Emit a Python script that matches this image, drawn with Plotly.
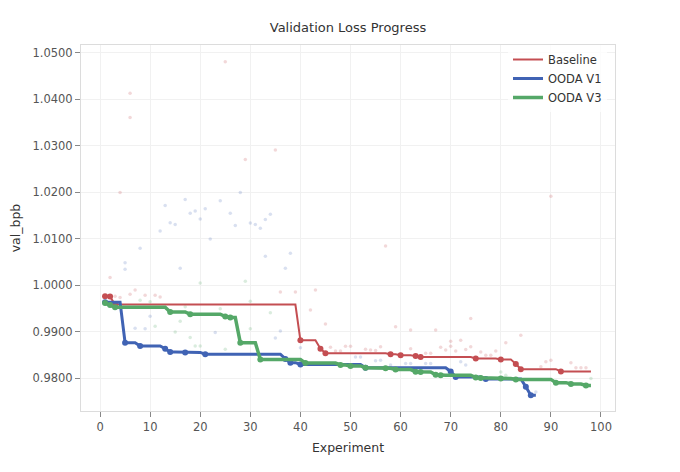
import plotly.graph_objects as go

# best-so-far improvements (experiment, val_bpb)
baseline_imp_x = [1, 2, 3, 40, 44, 45, 58, 60, 63, 64, 75, 80, 83, 84, 92]
baseline_imp_y = [0.9977, 0.9976, 0.9959, 0.9882, 0.9864, 0.9854, 0.9852, 0.9850,
                  0.9848, 0.9846, 0.9843, 0.9841, 0.9831, 0.9820, 0.9815]
baseline_last = 98

v1_imp_x = [1, 5, 8, 13, 14, 17, 21, 37, 38, 40, 53, 70, 71, 77, 85, 86]
v1_imp_y = [0.9964, 0.9877, 0.9870, 0.9864, 0.9857, 0.9856, 0.9852, 0.9842, 0.9834,
            0.9830, 0.9823, 0.9815, 0.9803, 0.9799, 0.9782, 0.9764]
v1_last = 87

v3_imp_x = [1, 2, 3, 14, 18, 25, 26, 28, 32, 41, 48, 50, 53, 57, 59, 63, 64, 67, 68,
            75, 76, 80, 83, 91, 94, 97]
v3_imp_y = [0.9962, 0.9958, 0.9953, 0.9943, 0.9938, 0.9933, 0.9931, 0.9877, 0.9841,
            0.9833, 0.9829, 0.9827, 0.9823, 0.9822, 0.9819, 0.98145, 0.9814, 0.9808,
            0.9807, 0.9802, 0.9801, 0.9800, 0.9798, 0.9791, 0.9788, 0.9785]
v3_last = 98

# individual experiment results (faint dots)
baseline_raw_x = [2, 4, 6, 6, 25, 29, 35, 3, 4, 6, 7, 9, 11, 12, 36, 39, 43, 42, 45,
                  46, 47, 48, 49, 50, 53, 54, 55, 56, 57, 59, 62, 62, 65, 66, 67, 68,
                  69, 70, 70, 71, 72, 73, 74, 74, 76, 77, 78, 79, 81, 84, 88, 89, 90,
                  90, 94, 95, 96, 97]
baseline_raw_y = [1.0017, 1.0200, 1.0413, 1.0361, 1.0481, 1.0271, 1.0291, 0.9977,
                  0.9974, 0.9981, 0.9990, 0.9979, 0.9979, 0.9975, 0.9986, 0.9986,
                  0.9990, 0.9947, 0.9917, 0.9867, 0.9859, 0.9859, 0.9869, 0.9869,
                  0.9863, 0.9861, 0.9860, 0.9868, 1.0085, 0.9911, 0.9904, 0.9864,
                  0.9854, 0.9854, 0.9904, 0.9867, 0.9861, 0.9880, 0.9869, 0.9859,
                  0.9882, 0.9862, 0.9929, 0.9868, 0.9857, 0.9850, 0.9850, 0.9859,
                  0.9877, 0.9893, 0.9825, 0.9836, 0.9839, 1.0192, 0.9834, 0.9823,
                  0.9823, 0.9823]

v1_raw_x = [5, 5, 7, 8, 9, 10, 12, 13, 14, 15, 16, 17, 18, 19, 20, 21, 22, 23, 24,
            26, 27, 28, 30, 31, 32, 33, 34, 33, 35, 36, 37, 38, 40, 51, 52, 55, 56,
            58, 61, 62, 65, 66, 72, 73, 87]
v1_raw_y = [1.0049, 1.0035, 0.9908, 1.0080, 0.9907, 0.9934, 1.0117, 1.0172, 1.0135,
            1.0131, 1.0037, 1.0185, 1.0155, 1.0160, 1.0143, 1.0165, 1.0100, 0.9899,
            1.0182, 1.0155, 1.0129, 1.0200, 1.0134, 1.0131, 1.0123, 1.0142, 1.0153,
            1.0063, 0.9887, 0.9902, 1.0037, 1.0069, 0.9866, 0.9846, 0.9846, 0.9838,
            0.9839, 0.9829, 0.9832, 0.9832, 0.9832, 0.9832, 0.9836, 0.9829, 0.9771]

v3_raw_x = [8, 10, 11, 15, 16, 17, 18, 19, 20, 20, 24, 25, 29, 30, 30, 34, 80, 81, 98]
v3_raw_y = [0.9968, 0.9965, 0.9912, 0.9900, 0.9923, 0.9954, 0.9888, 0.9870, 0.9870,
            1.0005, 0.9950, 0.9863, 1.0009, 0.9966, 0.9907, 0.9941, 0.9814, 0.9807,
            0.9800]

RED = '#C44E52'
BLUE = '#4063B4'
GREEN = '#55A868'


def best_line(imp_x, imp_y, last):
    """carry the best value forward over every experiment"""
    lookup = dict(zip(imp_x, imp_y))
    xs, ys = [], []
    best = None
    for e in range(imp_x[0], last + 1):
        if e in lookup:
            best = lookup[e]
        xs.append(e)
        ys.append(best)
    return xs, ys


series = [
    ('Baseline', RED, 2, 'rgba(196,78,82,0.22)', baseline_imp_x, baseline_imp_y,
     baseline_last, baseline_raw_x, baseline_raw_y),
    ('OODA V1', BLUE, 3, 'rgba(64,99,180,0.2)', v1_imp_x, v1_imp_y,
     v1_last, v1_raw_x, v1_raw_y),
    ('OODA V3', GREEN, 3.5, 'rgba(85,168,104,0.22)', v3_imp_x, v3_imp_y,
     v3_last, v3_raw_x, v3_raw_y),
]

fig = go.Figure()

# faint dots first
for name, color, width, faint, ix, iy, last, rx, ry in series:
    fig.add_trace(go.Scatter(
        x=rx, y=ry, mode='markers',
        marker=dict(color=faint, size=3.5),
        showlegend=False, hoverinfo='skip'
    ))

for name, color, width, faint, ix, iy, last, rx, ry in series:
    bx, by = best_line(ix, iy, last)
    fig.add_trace(go.Scatter(
        x=bx, y=by, mode='lines', name=name,
        line=dict(color=color, width=width)
    ))
    fig.add_trace(go.Scatter(
        x=ix, y=iy, mode='markers', name=name,
        marker=dict(color=color, size=6),
        showlegend=False
    ))

axis_common = dict(
    showgrid=True,
    gridcolor='#f1f1f1',
    showline=True,
    linecolor='#dcdcdc',
    linewidth=1,
    mirror=True,
    ticks='outside',
    ticklen=5,
    tickcolor='#888888',
    tickfont=dict(size=11.5, color='#555555'),
    zeroline=False,
    automargin=False,
)

# the page body adds 8px around the figure
fig.update_layout(
    width=664,
    height=456,
    margin=dict(l=73, r=57, t=37, b=53),
    paper_bgcolor='white',
    plot_bgcolor='white',
    font=dict(family='DejaVu Sans', color='#333333'),
    title=dict(
        text='Validation Loss Progress',
        font=dict(size=13, color='#333333'),
        x=0.5, xref='paper', xanchor='center',
        y=1 - 19 / 456, yanchor='middle'
    ),
    xaxis=dict(
        axis_common,
        range=[-3.8, 102.8],
        dtick=10,
        title=dict(text='Experiment', font=dict(size=12.5, color='#333333'), standoff=10),
    ),
    yaxis=dict(
        axis_common,
        range=[0.9730, 1.0517],
        dtick=0.01,
        tickformat='.4f',
        title=dict(text='val_bpb', font=dict(size=12.5, color='#333333'), standoff=11),
    ),
    legend=dict(
        x=0.985, xanchor='right',
        y=1.0, yanchor='top',
        bgcolor='rgba(255,255,255,0.8)',
        font=dict(size=11.5, color='#333333'),
        itemwidth=30,
        tracegroupgap=0,
    ),
)

fig.write_html("out.html")
